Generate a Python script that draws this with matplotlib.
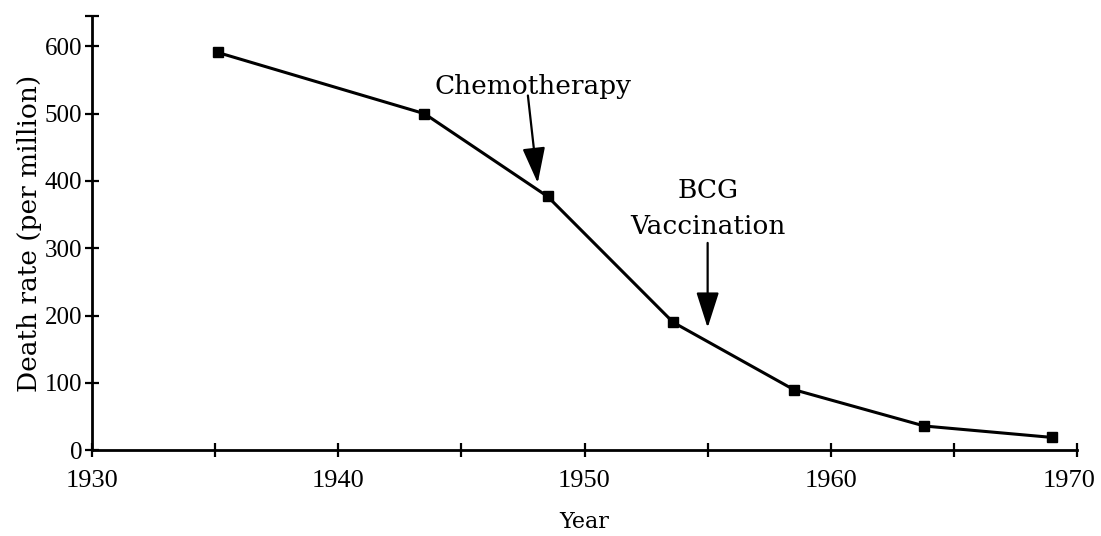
"""Tuberculosis death rate with treatment milestones."""

import matplotlib
matplotlib.use("Agg")
import matplotlib.pyplot as plt
from matplotlib.transforms import ScaledTranslation

years = [1935.1, 1943.5, 1948.5, 1953.6, 1958.5, 1963.8, 1969.0]
death_rate = [591, 500, 377, 190, 90, 36, 19]

major_years = [1930, 1940, 1950, 1960, 1970]
minor_years = [1935, 1945, 1955, 1965]
rate_ticks = [0, 100, 200, 300, 400, 500, 600]

# annotation text positions and arrow ends, in data units
chemo_text = (1947.9, 541)
chemo_tail = (1947.7, 527)
chemo_tip = (1948.1, 397)
bcg_text = (1955.0, 359)
bcg_tail = (1955.0, 308)
bcg_tip = (1955.0, 182)

TEXT_FONT = "DejaVu Serif"
NUM_FONT = "Liberation Serif"


def main() -> None:
    fig = plt.figure(figsize=(11.01, 5.36), dpi=100)
    ax = fig.add_axes([0.0836, 0.160, 0.8946, 0.810])

    ax.plot(years, death_rate, color="black", linewidth=2.2,
            marker="s", markersize=7, markerfacecolor="black")

    ax.set_xlim(1930, 1970)
    ax.set_ylim(0, 645)

    for side in ("top", "right"):
        ax.spines[side].set_visible(False)
    for side in ("left", "bottom"):
        ax.spines[side].set_linewidth(2.0)

    ax.set_xticks(major_years)
    ax.set_xticks(minor_years, minor=True)
    ax.set_xticklabels([str(y) for y in major_years], fontfamily=NUM_FONT, fontsize=19)
    ax.set_yticks(rate_ticks + [645])
    ax.set_yticklabels([str(v) for v in rate_ticks] + [""], fontfamily=NUM_FONT, fontsize=18)

    ax.tick_params(axis="both", which="both", direction="inout", length=10, width=1.6)
    ax.tick_params(axis="x", which="major", pad=9)
    ax.tick_params(axis="y", which="major", pad=2)

    # last year label sits a little left so it stays inside the figure
    last = ax.get_xticklabels()[-1]
    last.set_transform(last.get_transform() + ScaledTranslation(-6 / 72, 0, fig.dpi_scale_trans))

    ax.set_xlabel("Year", fontfamily=TEXT_FONT, fontsize=16, labelpad=14)
    ax.set_ylabel("Death rate (per million)", fontfamily=TEXT_FONT, fontsize=19, labelpad=2)

    arrow = dict(arrowstyle="-|>,head_length=1.0,head_width=0.32",
                 color="black", lw=1.6, mutation_scale=22, shrinkA=0, shrinkB=0)

    ax.text(*chemo_text, "Chemotherapy", fontfamily=TEXT_FONT, fontsize=19,
            ha="center", va="center")
    ax.annotate("", xy=chemo_tip, xytext=chemo_tail, arrowprops=arrow)

    ax.text(*bcg_text, "BCG\nVaccination", fontfamily=TEXT_FONT, fontsize=19,
            ha="center", va="center", linespacing=1.55)
    ax.annotate("", xy=bcg_tip, xytext=bcg_tail, arrowprops=arrow)

    fig.savefig("out.png")
    plt.close(fig)


if __name__ == "__main__":
    main()
